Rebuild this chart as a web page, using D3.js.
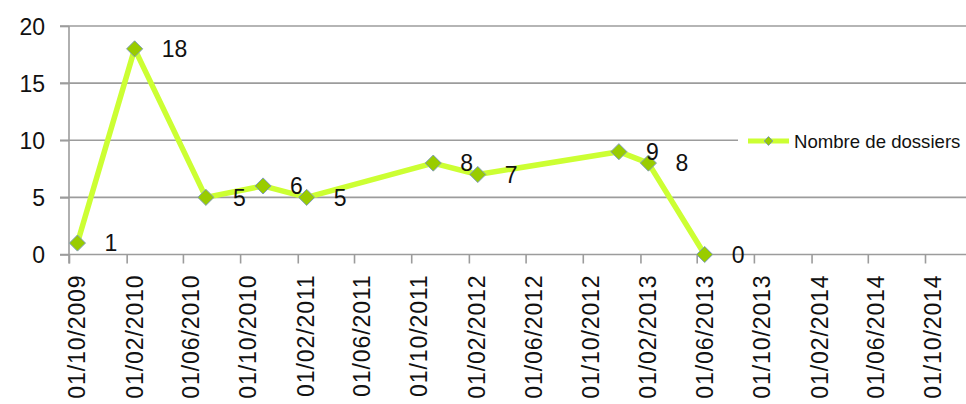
<!DOCTYPE html>
<html>
<head>
<meta charset="utf-8">
<script src="https://cdn.jsdelivr.net/npm/d3@7"></script>
<style>
  html, body { margin: 0; padding: 0; background: #fff; }
  svg { display: block; }
</style>
</head>
<body>
<svg id="chart" width="966" height="404"></svg>
<script>
// ---- data ----
const seriesName = "Nombre de dossiers";
const dates = ["2009-10-19", "2010-02-18", "2010-07-20", "2010-11-19", "2011-02-20",
               "2011-11-17", "2012-02-20", "2012-12-17", "2013-02-18", "2013-06-18"];
const values = [1, 18, 5, 6, 5, 8, 7, 9, 8, 0];
const yTicks = [0, 5, 10, 15, 20];
const xTickDates = ["2009-10-01", "2010-02-01", "2010-06-01", "2010-10-01", "2011-02-01",
                    "2011-06-01", "2011-10-01", "2012-02-01", "2012-06-01", "2012-10-01",
                    "2013-02-01", "2013-06-01", "2013-10-01", "2014-02-01", "2014-06-01",
                    "2014-10-01"];

const parse = d3.timeParse("%Y-%m-%d");
const fmt = d3.timeFormat("%d/%m/%Y");
const data = dates.map((d, i) => ({ date: parse(d), value: values[i] }));
const tickDates = xTickDates.map(parse);

const svg = d3.select("#chart");
const plotLeft = 69, plotRight = 925, axisEnd = 966, plotTop = 26, plotBottom = 254.5;

const x = d3.scaleTime()
  .domain([tickDates[0], tickDates[tickDates.length - 1]])
  .range([plotLeft, plotRight]);
const y = d3.scaleLinear().domain([0, 20]).range([plotBottom, plotTop]);

const gridColor = "#9c9c9c";
const textColor = "#111";
const font = "'Liberation Sans', Arial, sans-serif";

// gridlines (with outward ticks)
svg.append("g").selectAll("line").data(yTicks.filter(v => v > 0)).join("line")
  .attr("x1", plotLeft - 9).attr("x2", axisEnd)
  .attr("y1", d => y(d)).attr("y2", d => y(d))
  .attr("stroke", gridColor).attr("stroke-width", 1.6);

// y axis
const yAxis = d3.axisLeft(y).tickValues(yTicks).tickSize(9).tickPadding(15);
const gy = svg.append("g").attr("transform", `translate(${plotLeft},0)`).call(yAxis);
gy.select(".domain").attr("d", `M0,${plotTop}V${plotBottom + 9}`).attr("stroke", gridColor).attr("stroke-width", 1.6);
gy.selectAll(".tick line").attr("stroke", gridColor).attr("stroke-width", 1.6);
gy.selectAll(".tick text").attr("font-family", font).attr("font-size", 23)
  .attr("fill", textColor).attr("dy", "0.36em");

// x axis
const xAxis = d3.axisBottom(x).tickValues(tickDates).tickSize(9).tickFormat(fmt);
const gx = svg.append("g").attr("transform", `translate(0,${plotBottom})`).call(xAxis);
gx.select(".domain").attr("d", `M${plotLeft - 9},0H${axisEnd}`).attr("stroke", gridColor).attr("stroke-width", 1.6);
gx.selectAll(".tick line").attr("stroke", gridColor).attr("stroke-width", 1.6);
gx.selectAll(".tick text")
  .attr("font-family", font).attr("font-size", 23).attr("fill", textColor)
  .attr("letter-spacing", "0.9px")
  .attr("text-anchor", "end")
  .attr("transform", "translate(15.5,20) rotate(-90)")
  .attr("x", 0).attr("y", 0).attr("dy", 0);

// legend background + legend
const lg = svg.append("g");
lg.append("rect").attr("x", 738).attr("y", 124).attr("width", 228).attr("height", 34).attr("fill", "#fff");
lg.append("line").attr("x1", 748).attr("x2", 789).attr("y1", 141).attr("y2", 141)
  .attr("stroke", "#ccff33").attr("stroke-width", 5);
lg.append("path").attr("d", d3.symbol(d3.symbolDiamond2, 50)())
  .attr("transform", "translate(768.5,141)")
  .attr("fill", "#99cc00").attr("stroke", "#7f9db9").attr("stroke-width", 1);
lg.append("text").attr("x", 794).attr("y", 141).attr("dy", "0.36em")
  .attr("font-family", font).attr("font-size", 18.6).attr("fill", textColor)
  .text(seriesName);

// data line
const line = d3.line().x(d => x(d.date)).y(d => y(d.value));
svg.append("path").datum(data).attr("d", line)
  .attr("fill", "none").attr("stroke", "#ccff33").attr("stroke-width", 5.5)
  .attr("stroke-linejoin", "round");

// markers
svg.append("g").selectAll("path").data(data).join("path")
  .attr("d", d3.symbol(d3.symbolDiamond2, 165)())
  .attr("transform", d => `translate(${x(d.date)},${y(d.value)})`)
  .attr("fill", "#99cc00").attr("stroke", "#7f9db9").attr("stroke-width", 1);

// data labels
svg.append("g").selectAll("text").data(data).join("text")
  .attr("x", d => x(d.date) + 27).attr("y", d => y(d.value)).attr("dy", "0.36em")
  .attr("font-family", font).attr("font-size", 23).attr("fill", textColor)
  .text(d => d.value);
</script>
</body>
</html>
